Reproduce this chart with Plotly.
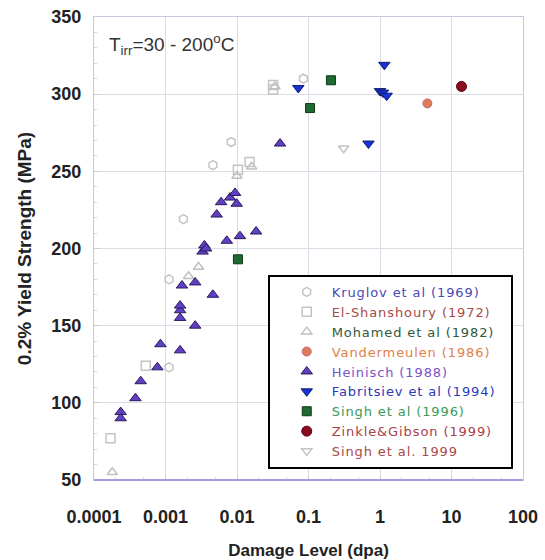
import plotly.graph_objects as go

# ---- data ----
kruglov_x = [0.00112, 0.00112, 0.00178, 0.0046, 0.0083, 0.085]
kruglov_y = [180, 123, 219, 254, 269, 310]

shansh_x = [0.00017, 0.00053, 0.0103, 0.015, 0.032, 0.032]
shansh_y = [77, 124, 251, 256, 303, 306]

mohamed_x = [0.00018, 0.0021, 0.0029, 0.01, 0.016, 0.034]
mohamed_y = [55, 182, 188, 247, 253, 305]

vander_x = [4.6]
vander_y = [294]

heinisch_x = [0.000236, 0.000236, 0.00038, 0.00045, 0.00077, 0.00085, 0.0016,
              0.0026, 0.0016, 0.0016, 0.0016, 0.0017, 0.0026, 0.0046, 0.0033,
              0.0035, 0.0037, 0.0072, 0.011, 0.0185, 0.0052, 0.006, 0.008,
              0.0094, 0.0099, 0.04]
heinisch_y = [94, 90, 103, 114, 123, 138, 134, 150, 155, 160, 163, 176, 178,
              170, 198, 202, 200, 205, 208, 211, 222, 230, 233, 236, 229, 268]

fabri_x = [0.072, 0.69, 1.0, 1.1, 1.15, 1.24]
fabri_y = [304, 268, 302, 301, 319, 299]

singh96_x = [0.0103, 0.105, 0.206]
singh96_y = [193, 291, 309]

zinkle_x = [13.8]
zinkle_y = [305]

singh99_x = [0.31]
singh99_y = [265]

names = ["Kruglov et al (1969)", "El-Shanshoury (1972)", "Mohamed et al (1982)",
         "Vandermeulen (1986)", "Heinisch (1988)", "Fabritsiev et al (1994)",
         "Singh et al (1996)", "Zinkle&Gibson (1999)", "Singh et al. 1999"]
text_colors = ["#4a48b8", "#a84a48", "#2f5a3a", "#e0804a", "#7a52c8",
               "#2a3ab8", "#3a9a5a", "#a8404a", "#a84a4a"]

x_ticks = [0.0001, 0.001, 0.01, 0.1, 1, 10, 100]
x_ticklabels = ["0.0001", "0.001", "0.01", "0.1", "1", "10", "100"]
y_ticks = [50, 100, 150, 200, 250, 300, 350]

series = [
    (kruglov_x, kruglov_y, dict(symbol="hexagon-open", color="#c4c4c4", size=9, line=dict(width=1.5))),
    (shansh_x, shansh_y, dict(symbol="square-open", color="#c4c4c4", size=9, line=dict(width=1.5))),
    (mohamed_x, mohamed_y, dict(symbol="triangle-up-open", color="#c0c0c0", size=9, line=dict(width=1.5))),
    (vander_x, vander_y, dict(symbol="circle", color="#e07a5a", size=9, line=dict(width=1, color="#c06a6a"))),
    (heinisch_x, heinisch_y, dict(symbol="triangle-up", color="#6040c0", size=10, line=dict(width=1, color="#2a1a60"))),
    (fabri_x, fabri_y, dict(symbol="triangle-down", color="#1a30d8", size=10, line=dict(width=1, color="#10206a"))),
    (singh96_x, singh96_y, dict(symbol="square", color="#1e6a30", size=9, line=dict(width=1, color="#0e3a18"))),
    (zinkle_x, zinkle_y, dict(symbol="circle", color="#8a0a1e", size=10, line=dict(width=1, color="#5a0010"))),
    (singh99_x, singh99_y, dict(symbol="triangle-down-open", color="#c4c4c4", size=9, line=dict(width=1.5))),
]

fig = go.Figure()
for (xs, ys, mk), nm, tc in zip(series, names, text_colors):
    fig.add_trace(go.Scatter(
        x=xs, y=ys, mode="markers", marker=mk,
        name=f'<span style="color:{tc};letter-spacing:0.9px">{nm}&nbsp;&nbsp;</span>'))

fig.update_layout(
    width=545, height=560,
    margin=dict(l=94, r=22, t=17, b=80, autoexpand=False),
    plot_bgcolor="white", paper_bgcolor="white",
    font=dict(family="Liberation Sans, Arial, sans-serif", color="#222"),
    legend=dict(x=0.405, y=0.443, xanchor="left", yanchor="top",
                bgcolor="white", bordercolor="black", borderwidth=2,
                font=dict(size=13, family="DejaVu Sans, Liberation Sans, sans-serif"),
                tracegroupgap=0, itemsizing="trace",
                indentation=12, itemwidth=40),
    annotations=[dict(
        x=0.03, y=0.975, xref="paper", yref="paper", xanchor="left", yanchor="top",
        showarrow=False,
        text="T<sub>irr</sub>=30 - 200<sup>o</sup>C",
        font=dict(size=19, color="#333"))],
    shapes=[dict(type="line", xref="paper", yref="paper", x0=0, x1=1, y0=0, y1=0,
                 line=dict(color="#a0a0dc", width=2))],
)

fig.update_xaxes(
    type="log", range=[-4, 2], automargin=False,
    tickvals=x_ticks,
    ticktext=[f"<b>{t}</b>" for t in x_ticklabels],
    tickfont=dict(size=18, color="#222"),
    ticklabelstandoff=20,
    showgrid=True, gridcolor="#dcdce4", gridwidth=1,
    showline=True, linecolor="#c8c8d8", linewidth=1, mirror=True,
    ticks="inside", ticklen=5, tickcolor="#c8c8d8",
    minor=dict(ticks="inside", ticklen=3, tickcolor="#d8d8e0", showgrid=False),
    title=dict(text="<b>Damage Level (dpa)</b>", font=dict(size=17, color="#222"), standoff=24),
    zeroline=False,
)
fig.update_yaxes(
    range=[50, 350], automargin=False,
    tickvals=y_ticks,
    ticktext=[f"<b>{t}</b>" for t in y_ticks],
    tickfont=dict(size=18, color="#222"),
    ticklabelstandoff=8,
    showgrid=True, gridcolor="#dcdce4", gridwidth=1,
    showline=True, linecolor="#c8c8d8", linewidth=1, mirror=True,
    ticks="inside", ticklen=5, tickcolor="#c8c8d8",
    minor=dict(ticks="inside", ticklen=3, dtick=10, tickcolor="#d8d8e0", showgrid=False),
    title=dict(text="<b>0.2% Yield Strength (MPa)</b>", font=dict(size=19, color="#222"), standoff=14),
    zeroline=False,
)

fig.write_html("out.html")
